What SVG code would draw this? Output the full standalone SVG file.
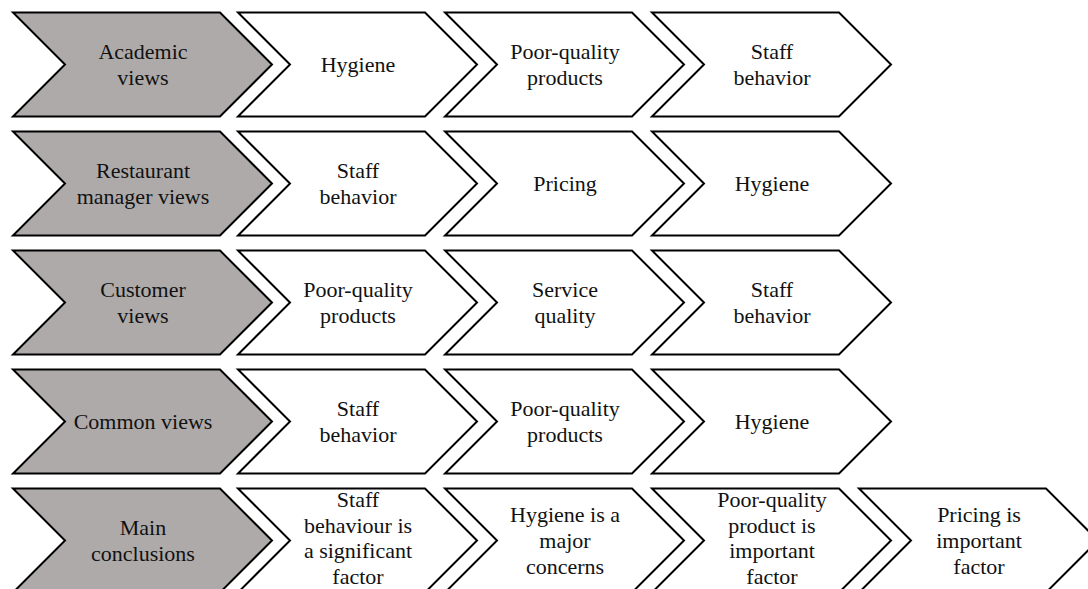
<svg xmlns="http://www.w3.org/2000/svg" xmlns:xlink="http://www.w3.org/1999/xlink" width="1088" height="589" viewBox="0 0 1088 589">
<style>
.head{fill:#AEAAAA;stroke:#000;stroke-width:2;stroke-linejoin:miter}
.step{fill:#fff;stroke:#000;stroke-width:2;stroke-linejoin:miter}
text{font-family:"Liberation Serif","Times New Roman",serif;font-size:22px;fill:#111;text-anchor:middle}
</style>
<defs>
<path id="chevHead" d="M0,0 H207 L259,52 L207,104 H0 L52,52 Z"/>
<path id="chevStep" d="M0,0 H187 L239,52 L187,104 H0 L52,52 Z"/>
</defs>
<rect width="1088" height="589" fill="#fff"/>
<g id="connectors"/>

<!-- Row 1 -->
<g id="academic-views"><use xlink:href="#chevHead" class="head" x="13" y="12.5"/><text x="143" y="59">Academic<tspan x="143" dy="26">views</tspan></text></g>
<g id="r1-hygiene"><use xlink:href="#chevStep" class="step" x="238" y="12.5"/><text x="358" y="72">Hygiene</text></g>
<g id="r1-poor-quality"><use xlink:href="#chevStep" class="step" x="445" y="12.5"/><text x="565" y="59">Poor-quality<tspan x="565" dy="26">products</tspan></text></g>
<g id="r1-staff"><use xlink:href="#chevStep" class="step" x="652" y="12.5"/><text x="772" y="59">Staff<tspan x="772" dy="26">behavior</tspan></text></g>

<!-- Row 2 -->
<g id="restaurant-manager-views"><use xlink:href="#chevHead" class="head" x="13" y="131.5"/><text x="143" y="178">Restaurant<tspan x="143" dy="26">manager views</tspan></text></g>
<g id="r2-staff"><use xlink:href="#chevStep" class="step" x="238" y="131.5"/><text x="358" y="178">Staff<tspan x="358" dy="26">behavior</tspan></text></g>
<g id="r2-pricing"><use xlink:href="#chevStep" class="step" x="445" y="131.5"/><text x="565" y="191">Pricing</text></g>
<g id="r2-hygiene"><use xlink:href="#chevStep" class="step" x="652" y="131.5"/><text x="772" y="191">Hygiene</text></g>

<!-- Row 3 -->
<g id="customer-views"><use xlink:href="#chevHead" class="head" x="13" y="250.5"/><text x="143" y="297">Customer<tspan x="143" dy="26">views</tspan></text></g>
<g id="r3-poor-quality"><use xlink:href="#chevStep" class="step" x="238" y="250.5"/><text x="358" y="297">Poor-quality<tspan x="358" dy="26">products</tspan></text></g>
<g id="r3-service"><use xlink:href="#chevStep" class="step" x="445" y="250.5"/><text x="565" y="297">Service<tspan x="565" dy="26">quality</tspan></text></g>
<g id="r3-staff"><use xlink:href="#chevStep" class="step" x="652" y="250.5"/><text x="772" y="297">Staff<tspan x="772" dy="26">behavior</tspan></text></g>

<!-- Row 4 -->
<g id="common-views"><use xlink:href="#chevHead" class="head" x="13" y="369.5"/><text x="143" y="429">Common views</text></g>
<g id="r4-staff"><use xlink:href="#chevStep" class="step" x="238" y="369.5"/><text x="358" y="416">Staff<tspan x="358" dy="26">behavior</tspan></text></g>
<g id="r4-poor-quality"><use xlink:href="#chevStep" class="step" x="445" y="369.5"/><text x="565" y="416">Poor-quality<tspan x="565" dy="26">products</tspan></text></g>
<g id="r4-hygiene"><use xlink:href="#chevStep" class="step" x="652" y="369.5"/><text x="772" y="429">Hygiene</text></g>

<!-- Row 5 -->
<g id="main-conclusions"><use xlink:href="#chevHead" class="head" x="13" y="488.5"/><text x="143" y="535">Main<tspan x="143" dy="26">conclusions</tspan></text></g>
<g id="r5-staff"><use xlink:href="#chevStep" class="step" x="238" y="488.5"/><text x="358" y="507">Staff<tspan x="358" dy="25.5">behaviour is</tspan><tspan x="358" dy="25.5">a significant</tspan><tspan x="358" dy="25.5">factor</tspan></text></g>
<g id="r5-hygiene"><use xlink:href="#chevStep" class="step" x="445" y="488.5"/><text x="565" y="522">Hygiene is a<tspan x="565" dy="26">major</tspan><tspan x="565" dy="26">concerns</tspan></text></g>
<g id="r5-poor-quality"><use xlink:href="#chevStep" class="step" x="652" y="488.5"/><text x="772" y="507">Poor-quality<tspan x="772" dy="25.5">product is</tspan><tspan x="772" dy="25.5">important</tspan><tspan x="772" dy="25.5">factor</tspan></text></g>
<g id="r5-pricing"><use xlink:href="#chevStep" class="step" x="859" y="488.5"/><text x="979" y="522">Pricing is<tspan x="979" dy="26">important</tspan><tspan x="979" dy="26">factor</tspan></text></g>
</svg>
